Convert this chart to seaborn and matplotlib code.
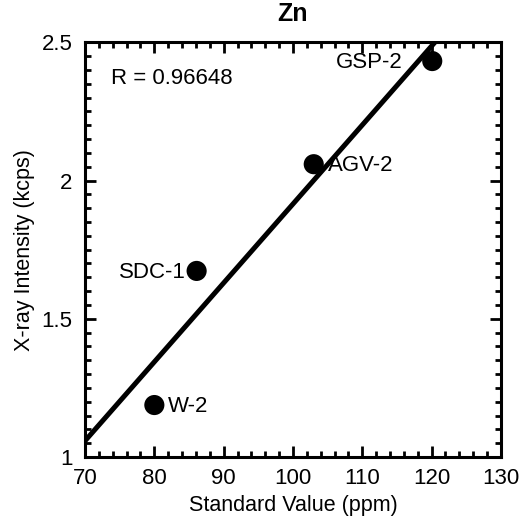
import numpy as np
import pandas as pd
import matplotlib
matplotlib.use('Agg')
import matplotlib.pyplot as plt
import seaborn as sns
from matplotlib.ticker import MultipleLocator, FormatStrFormatter

# standards: certified value (ppm) vs measured intensity (kcps)
names = ['W-2', 'SDC-1', 'AGV-2', 'GSP-2']
std_value = [80.0, 86.1, 103.0, 120.1]
intensity = [1.188, 1.673, 2.059, 2.432]
r_text = 'R = 0.96648'

data = pd.DataFrame({'name': names, 'value': std_value, 'kcps': intensity})

sns.set_style('ticks')
plt.rcParams['font.family'] = ['Liberation Sans', 'DejaVu Sans']
plt.rcParams.update({'text.color': 'black', 'axes.labelcolor': 'black',
                     'xtick.color': 'black', 'ytick.color': 'black'})

fig = plt.figure(figsize=(5.25, 5.25), dpi=100)
ax = fig.add_axes([0.162, 0.1295, 0.792, 0.79])
ax.set_xlim(70, 130)
ax.set_ylim(1, 2.5)

sns.regplot(data=data, x='value', y='kcps', ax=ax, scatter=False, ci=None,
            truncate=False, color='black', line_kws={'lw': 3.6})
sns.scatterplot(data=data, x='value', y='kcps', ax=ax, color='black',
                s=210, edgecolor='none', zorder=5)

# label offsets (points) and alignment
offsets = {'W-2': (9.5, 'left'), 'SDC-1': (-7.5, 'right'),
           'AGV-2': (10, 'left'), 'GSP-2': (-21, 'right')}
for _, row in data.iterrows():
    dx, ha = offsets[row['name']]
    ax.annotate(row['name'], (row['value'], row['kcps']), xytext=(dx, -1),
                textcoords='offset points', ha=ha, va='center', fontsize=16)

ax.text(73.8, 2.37, r_text, fontsize=16, va='center')

ax.set_title('Zn', fontsize=18, fontweight='bold', pad=15)
ax.set_xlabel('Standard Value (ppm)', fontsize=15.5, labelpad=4)
ax.set_ylabel('X-ray Intensity (kcps)', fontsize=15.5, labelpad=5)

ax.xaxis.set_major_locator(MultipleLocator(10))
ax.xaxis.set_minor_locator(MultipleLocator(2))
ax.yaxis.set_major_locator(MultipleLocator(0.5))
ax.yaxis.set_minor_locator(MultipleLocator(0.05))
ax.yaxis.set_major_formatter(FormatStrFormatter('%g'))
ax.tick_params(which='both', direction='in', top=True, right=True,
               width=2, color='black', labelsize=16)
ax.tick_params(axis='x', which='major', pad=8)
ax.tick_params(axis='y', which='major', pad=9)
ax.tick_params(which='major', length=8)
ax.tick_params(which='minor', length=4)
for sp in ax.spines.values():
    sp.set_linewidth(2.2)
    sp.set_color('black')

fig.savefig('out.png', dpi=100)
